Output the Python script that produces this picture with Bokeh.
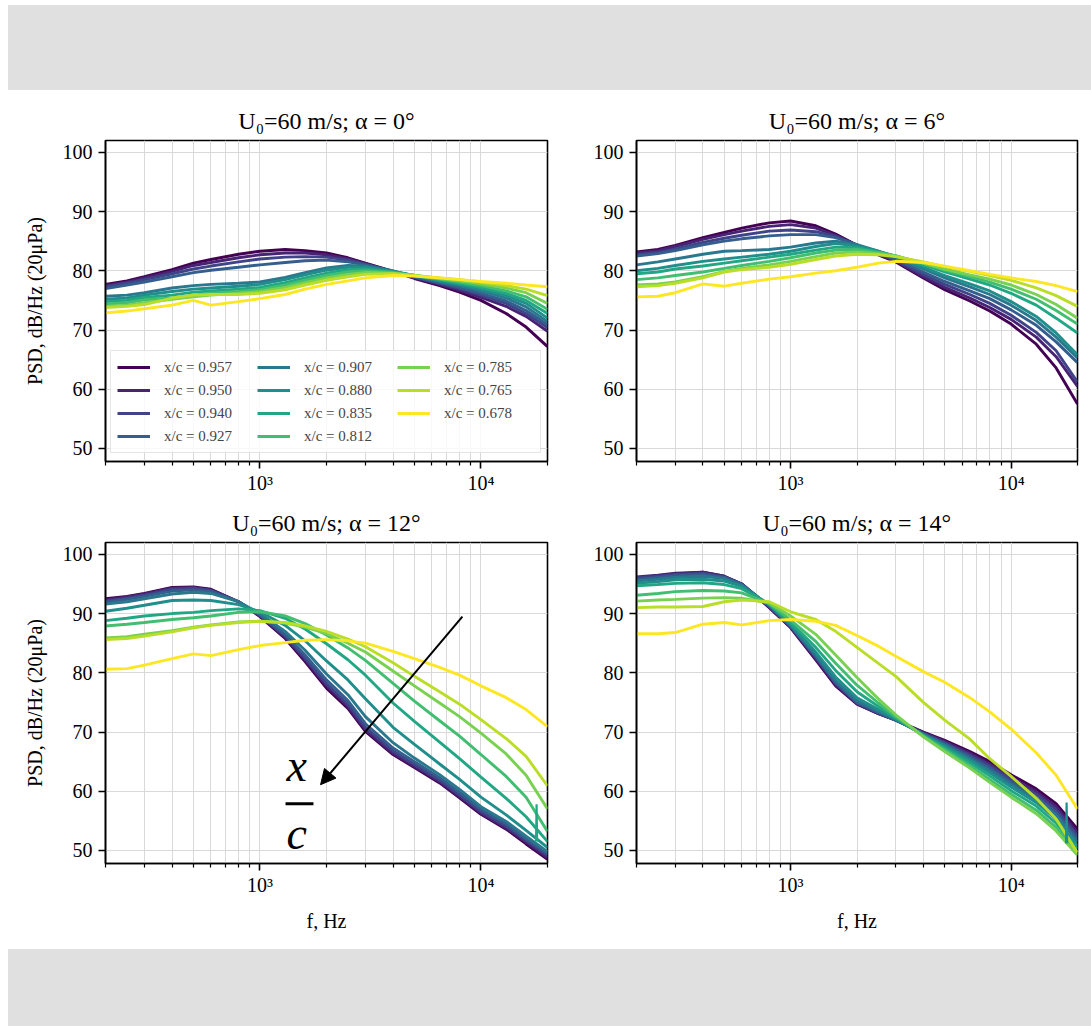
from bokeh.plotting import figure
from bokeh.models import (Range1d, FixedTicker, Legend, LegendItem, Arrow, NormalHead,
                          Div, CustomJSTickFormatter)
from bokeh.layouts import column, row
from bokeh.embed import file_html
from bokeh.resources import INLINE
from bokeh.core.properties import value
from bokeh.palettes import viridis

# ---------------- data ----------------
freq_hz = [200, 250, 300, 400, 500, 600, 800, 1000, 1300, 1600, 2000, 2500,
           3000, 4000, 5000, 6500, 8000, 10000, 13000, 16000, 20000]

xc_labels = ["0.957", "0.950", "0.940", "0.927", "0.907", "0.880",
             "0.835", "0.812", "0.785", "0.765", "0.678"]

alpha_deg = [0, 6, 12, 14]

psd_alpha0 = [
    [77.7, 78.3, 79.0, 80.2, 81.3, 81.9, 82.8, 83.3, 83.6, 83.4, 83.0, 82.2, 81.3, 79.9, 78.7, 77.5, 76.4, 75.0, 72.8, 70.5, 67.2],
    [77.5, 78.1, 78.8, 79.9, 80.9, 81.4, 82.2, 82.7, 83.0, 83.0, 82.7, 82.0, 81.2, 79.9, 78.8, 77.7, 76.7, 75.5, 74.0, 72.3, 69.8],
    [77.3, 77.9, 78.5, 79.5, 80.3, 80.8, 81.5, 82.0, 82.3, 82.4, 82.3, 81.8, 81.1, 79.9, 78.9, 77.9, 77.0, 75.9, 74.5, 72.8, 70.4],
    [77.0, 77.6, 78.1, 79.0, 79.7, 80.1, 80.6, 81.0, 81.4, 81.7, 81.8, 81.5, 81.0, 79.9, 79.0, 78.0, 77.2, 76.2, 74.9, 73.3, 70.9],
    [75.7, 75.9, 76.3, 77.1, 77.5, 77.7, 77.9, 78.1, 78.9, 79.7, 80.5, 80.9, 80.8, 80.0, 79.1, 78.2, 77.5, 76.6, 75.4, 73.9, 71.4],
    [75.2, 75.4, 75.9, 76.5, 76.9, 77.1, 77.4, 77.7, 78.5, 79.3, 80.1, 80.6, 80.6, 79.9, 79.2, 78.3, 77.7, 76.9, 75.8, 74.5, 72.0],
    [74.8, 75.0, 75.5, 75.9, 76.4, 76.6, 76.9, 77.2, 78.0, 78.8, 79.6, 80.2, 80.3, 79.8, 79.2, 78.5, 77.9, 77.2, 76.2, 75.0, 72.8],
    [74.4, 74.6, 75.1, 75.4, 75.9, 76.2, 76.5, 76.8, 77.6, 78.4, 79.2, 79.8, 80.0, 79.7, 79.2, 78.6, 78.1, 77.5, 76.6, 75.6, 73.5],
    [74.0, 74.2, 74.6, 75.2, 75.6, 75.9, 76.2, 76.5, 77.2, 78.0, 78.8, 79.4, 79.7, 79.6, 79.2, 78.7, 78.3, 77.8, 77.1, 76.3, 74.5],
    [73.8, 74.0, 74.3, 75.4, 75.9, 76.0, 76.0, 76.2, 76.8, 77.6, 78.4, 79.0, 79.4, 79.5, 79.2, 78.8, 78.5, 78.1, 77.5, 76.9, 75.8],
    [72.9, 73.2, 73.6, 74.2, 75.0, 74.2, 74.8, 75.3, 76.0, 76.9, 77.7, 78.3, 78.8, 79.2, 79.1, 78.8, 78.5, 78.2, 77.9, 77.6, 77.3],
]

psd_alpha6 = [
    [83.2, 83.6, 84.3, 85.6, 86.5, 87.2, 88.1, 88.4, 87.6, 86.2, 84.3, 82.7, 81.5, 78.8, 76.8, 74.9, 73.2, 71.0, 67.6, 63.6, 57.5],
    [83.0, 83.4, 84.1, 85.3, 86.1, 86.7, 87.5, 87.8, 87.2, 86.0, 84.3, 82.8, 81.6, 79.0, 77.2, 75.4, 73.8, 71.8, 68.8, 65.5, 60.5],
    [82.7, 83.1, 83.7, 84.8, 85.5, 86.0, 86.7, 86.9, 86.6, 85.8, 84.3, 82.9, 81.8, 79.4, 77.7, 76.0, 74.5, 72.5, 69.6, 66.5, 61.2],
    [82.5, 82.9, 83.4, 84.4, 85.0, 85.4, 85.9, 86.1, 86.1, 85.6, 84.4, 83.0, 82.0, 79.8, 78.2, 76.6, 75.3, 73.4, 70.8, 68.0, 64.5],
    [81.0, 81.5, 82.0, 82.8, 83.3, 83.4, 83.6, 84.0, 84.7, 85.0, 84.4, 83.3, 82.3, 80.3, 78.8, 77.3, 76.0, 74.2, 71.6, 68.8, 65.3],
    [80.0, 80.4, 80.9, 81.6, 82.0, 82.3, 82.8, 83.3, 84.1, 84.6, 84.2, 83.3, 82.4, 80.6, 79.2, 77.8, 76.6, 74.8, 72.3, 69.5, 65.8],
    [79.5, 79.8, 80.3, 80.8, 81.3, 81.7, 82.3, 82.8, 83.5, 84.0, 83.9, 83.2, 82.5, 81.0, 79.8, 78.6, 77.6, 76.2, 74.2, 72.0, 69.5],
    [78.5, 78.8, 79.2, 79.8, 80.4, 80.9, 81.6, 82.2, 83.0, 83.5, 83.6, 83.1, 82.5, 81.2, 80.1, 79.0, 78.1, 76.9, 75.2, 73.3, 71.0],
    [77.6, 77.8, 78.1, 79.0, 79.9, 80.4, 81.0, 81.6, 82.4, 83.0, 83.2, 82.9, 82.5, 81.3, 80.3, 79.3, 78.6, 77.6, 76.0, 74.3, 72.0],
    [77.3, 77.5, 77.9, 78.8, 79.8, 80.2, 80.6, 81.1, 81.9, 82.5, 82.8, 82.7, 82.4, 81.5, 80.7, 79.9, 79.2, 78.4, 77.1, 75.8, 74.0],
    [75.6, 75.7, 76.3, 77.8, 77.4, 77.9, 78.6, 79.0, 79.6, 80.0, 80.6, 81.3, 81.6, 81.4, 80.8, 80.0, 79.4, 78.8, 78.2, 77.5, 76.5],
]

psd_alpha12 = [
    [92.5, 92.9, 93.4, 94.4, 94.5, 94.1, 92.0, 89.5, 85.8, 81.9, 77.4, 74.0, 70.1, 66.2, 64.0, 61.4, 58.9, 56.1, 53.6, 51.1, 48.5],
    [92.3, 92.8, 93.3, 94.3, 94.4, 94.0, 92.0, 89.6, 86.0, 82.2, 77.8, 74.3, 70.4, 66.4, 64.2, 61.6, 59.1, 56.3, 53.8, 51.4, 48.8],
    [92.1, 92.6, 93.1, 94.1, 94.3, 93.9, 92.0, 89.7, 86.2, 82.5, 78.2, 74.7, 70.8, 66.8, 64.5, 61.9, 59.4, 56.6, 54.1, 51.7, 49.2],
    [91.9, 92.4, 92.9, 93.8, 94.0, 93.7, 92.0, 89.8, 86.5, 83.0, 78.8, 75.3, 71.4, 67.3, 65.0, 62.3, 59.8, 57.0, 54.5, 52.0, 49.5],
    [91.6, 92.0, 92.5, 93.3, 93.6, 93.4, 92.0, 90.0, 87.0, 83.8, 79.8, 76.3, 72.6, 68.2, 65.6, 62.8, 60.3, 57.4, 54.9, 52.4, 49.8],
    [90.4, 90.9, 91.4, 92.2, 92.3, 92.2, 91.5, 90.3, 88.0, 85.4, 82.0, 78.8, 75.6, 70.8, 67.9, 64.6, 62.0, 59.0, 56.0, 53.4, 50.5],
    [88.8, 89.2, 89.6, 90.0, 90.2, 90.5, 90.8, 90.5, 89.2, 87.4, 84.9, 82.2, 79.6, 74.9, 71.8, 68.3, 65.5, 62.4, 58.8, 55.7, 51.5],
    [87.9, 88.2, 88.5, 89.0, 89.3, 89.6, 90.2, 90.3, 89.6, 88.3, 86.4, 84.2, 82.1, 78.2, 75.2, 71.9, 69.3, 66.2, 62.5, 59.0, 53.2],
    [85.9, 86.1, 86.5, 87.1, 87.7, 88.1, 88.6, 88.7, 88.4, 87.7, 86.6, 85.0, 83.5, 80.3, 77.8, 74.9, 72.6, 69.8, 66.3, 62.7, 57.0],
    [85.6, 85.8, 86.2, 86.9, 87.6, 88.0, 88.5, 88.7, 88.5, 87.9, 87.0, 85.7, 84.4, 81.7, 79.4, 76.8, 74.7, 72.1, 68.9, 65.9, 60.9],
    [80.6, 80.7, 81.3, 82.4, 83.2, 82.9, 83.9, 84.6, 85.1, 85.5, 85.6, 85.4, 85.0, 83.6, 82.4, 80.9, 79.6, 77.8, 75.8, 73.8, 70.9],
]

psd_alpha14 = [
    [96.0, 96.4, 96.7, 97.0, 96.3, 95.0, 91.0, 87.6, 82.2, 77.8, 74.7, 73.1, 72.0, 70.0, 68.6, 66.7, 65.0, 62.8, 60.4, 57.9, 53.6],
    [96.2, 96.5, 96.8, 97.0, 96.3, 95.0, 91.1, 87.7, 82.4, 78.0, 74.8, 73.1, 72.0, 69.9, 68.4, 66.4, 64.6, 62.3, 59.9, 57.4, 53.0],
    [96.0, 96.3, 96.6, 96.8, 96.2, 95.0, 91.2, 87.8, 82.6, 78.2, 74.9, 73.2, 72.0, 69.8, 68.2, 66.1, 64.3, 61.9, 59.5, 56.9, 52.5],
    [95.7, 96.1, 96.4, 96.6, 96.1, 94.9, 91.3, 87.9, 82.8, 78.4, 75.0, 73.3, 72.0, 69.7, 68.0, 65.8, 63.9, 61.5, 59.0, 56.4, 52.0],
    [95.5, 95.8, 96.1, 96.3, 95.9, 94.8, 91.4, 88.0, 83.0, 78.7, 75.3, 73.5, 72.1, 69.6, 67.8, 65.5, 63.5, 61.1, 58.6, 55.9, 51.5],
    [95.1, 95.4, 95.7, 95.8, 95.5, 94.6, 91.5, 88.2, 83.5, 79.3, 75.8, 73.8, 72.2, 69.5, 67.6, 65.2, 63.1, 60.7, 58.1, 55.3, 50.8],
    [94.7, 94.9, 95.1, 95.2, 94.9, 94.2, 91.6, 88.5, 84.3, 80.4, 76.8, 74.3, 72.4, 69.4, 67.3, 64.8, 62.6, 60.1, 57.5, 54.6, 50.3],
    [93.1, 93.4, 93.7, 93.9, 93.8, 93.5, 91.7, 88.9, 85.3, 81.6, 77.9, 74.9, 72.6, 69.3, 67.0, 64.3, 62.0, 59.5, 56.8, 53.9, 49.7],
    [92.1, 92.3, 92.4, 92.6, 92.7, 92.6, 91.8, 89.6, 86.5, 83.0, 79.2, 75.6, 72.9, 69.2, 66.7, 63.9, 61.5, 59.0, 56.2, 53.3, 49.2],
    [91.0, 91.1, 91.1, 91.2, 92.0, 92.3, 92.0, 90.3, 89.0, 87.0, 84.3, 81.6, 79.4, 75.0, 72.0, 68.8, 65.5, 62.5, 58.8, 55.3, 49.6],
    [86.6, 86.6, 86.8, 88.2, 88.5, 88.1, 88.8, 89.0, 88.7, 88.0, 86.3, 84.5, 82.8, 80.2, 78.4, 75.8, 73.4, 70.5, 66.5, 62.7, 57.0],
]

# narrow spikes near 18 kHz (alpha = 12 and 14)
spike12_f = [17750, 17850, 17950]
spike12_psd = [51.5, 57.8, 51.5]
spike12_curve = 6
spike14_f = [17750, 17850, 17950]
spike14_psd = [51.2, 58.1, 51.2]
spike14_curve = 5

# arrow + x/c annotation (alpha = 12 panel)
arrow_f = [8240, 1880]
arrow_psd = [89.5, 61.1]
frac_f = 1465
frac_x_psd = 64.3
frac_c_psd = 52.9
frac_bar_f = [1305, 1746]
frac_bar_psd = 57.9

all_psd = [psd_alpha0, psd_alpha6, psd_alpha12, psd_alpha14]

# ---------------- styling ----------------
colors = viridis(len(xc_labels))
SERIF = "Liberation Serif"
GRID = "#d9d9d9"
minor_f = [200, 300, 400, 500, 600, 700, 800, 900, 2000, 3000, 4000, 5000,
           6000, 7000, 8000, 9000, 20000]


def make_panel(idx, col, rw):
    left_col = (col == 0)
    bottom_row = (rw == 1)
    p = figure(
        x_axis_type="log",
        x_range=Range1d(200, 20000),
        y_range=Range1d(47.8, 102.0),
        frame_width=442 if left_col else 441,
        frame_height=321,
        min_border_left=105 if left_col else 61,
        min_border_right=28 if left_col else 14,
        min_border_top=50 if not bottom_row else 40,
        min_border_bottom=40 if not bottom_row else 86,
        output_backend="svg",
        toolbar_location=None,
        background_fill_color="white",
        border_fill_color="white",
    )
    p.outline_line_color = "black"
    p.outline_line_width = 1.6
    p.outline_line_alpha = 1.0

    p.title.text = f"U\u2080=60 m/s; \u03b1 = {alpha_deg[idx]}\u00b0"
    p.title.align = "center"
    p.title.text_font = SERIF
    p.title.text_font_size = "24px"
    p.title.text_font_style = "normal"
    p.title.text_color = "black"
    p.title.standoff = 13

    xt = FixedTicker(ticks=[1000, 10000], minor_ticks=minor_f)
    p.xaxis.ticker = xt
    p.xgrid.ticker = xt
    p.xaxis.formatter = CustomJSTickFormatter(code="""
        const e = Math.round(Math.log10(tick));
        const s = {1: '\u00b9', 2: '\u00b2', 3: '\u00b3', 4: '\u2074', 5: '\u2075'};
        return '10' + s[e];
    """)
    yt = FixedTicker(ticks=[50, 60, 70, 80, 90, 100])
    p.yaxis.ticker = yt
    p.ygrid.ticker = yt

    for ax in (p.xaxis, p.yaxis):
        ax.axis_line_color = "black"
        ax.axis_line_width = 1.6
        ax.major_tick_line_color = "black"
        ax.major_tick_line_width = 1.6
        ax.major_tick_out = 7
        ax.major_tick_in = 0
        ax.major_label_text_font = SERIF
        ax.major_label_text_font_size = "20px"
        ax.major_label_text_color = "black"
        ax.axis_label_text_font = SERIF
        ax.axis_label_text_font_size = "20px"
        ax.axis_label_text_font_style = "normal"
        ax.axis_label_text_color = "black"
    p.yaxis.major_label_standoff = 6
    p.xaxis.major_label_standoff = 3
    p.xaxis.minor_tick_line_color = "black"
    p.xaxis.minor_tick_line_width = 1.2
    p.xaxis.minor_tick_out = 4
    p.xaxis.minor_tick_in = 0
    p.yaxis.minor_tick_line_color = None

    p.xgrid.grid_line_color = GRID
    p.xgrid.grid_line_width = 1
    p.xgrid.minor_grid_line_color = GRID
    p.xgrid.minor_grid_line_width = 1
    p.ygrid.grid_line_color = GRID
    p.ygrid.grid_line_width = 1

    if left_col:
        p.yaxis.axis_label = "PSD, dB/Hz (20\u03bcPa)"
        p.yaxis.axis_label_standoff = 14
    if bottom_row:
        p.xaxis.axis_label = "f, Hz"
        p.xaxis.axis_label_standoff = 11

    renderers = []
    for k, curve in enumerate(all_psd[idx]):
        r = p.line(freq_hz, curve, line_color=colors[k], line_width=2.9)
        renderers.append(r)

    if idx == 2:
        p.line(spike12_f, spike12_psd, line_color=colors[spike12_curve], line_width=2.2)
        p.add_layout(Arrow(end=NormalHead(size=15, fill_color="black", line_color="black"),
                           x_start=arrow_f[0], y_start=arrow_psd[0],
                           x_end=arrow_f[1], y_end=arrow_psd[1],
                           line_color="black", line_width=2))
        p.text(x=[frac_f, frac_f], y=[frac_x_psd, frac_c_psd], text=["x", "c"],
               text_font=value(SERIF), text_font_style="italic", text_font_size="46px",
               text_align="center", text_baseline="alphabetic", text_color="black")
        p.segment(x0=[frac_bar_f[0]], y0=[frac_bar_psd], x1=[frac_bar_f[1]], y1=[frac_bar_psd],
                  line_color="black", line_width=3)
    if idx == 3:
        p.line(spike14_f, spike14_psd, line_color=colors[spike14_curve], line_width=2.2)

    if idx == 0:
        items = [LegendItem(label=f"x/c = {lab}", renderers=[renderers[k]])
                 for k, lab in enumerate(xc_labels)]
        leg = Legend(items=items, location=(5, 8), orientation="vertical", nrows=4,
                     glyph_width=33, glyph_height=20, label_standoff=14,
                     label_height=20, label_width=90, spacing=3, padding=6, margin=0,
                     label_text_font=SERIF, label_text_font_size="15px",
                     border_line_color="#cccccc", border_line_width=1.2,
                     background_fill_color="white", background_fill_alpha=0.8)
        p.add_layout(leg)
    return p


p1 = make_panel(0, 0, 0)
p2 = make_panel(1, 1, 0)
p3 = make_panel(2, 0, 1)
p4 = make_panel(3, 1, 1)

top_band = Div(text="", width=1083, height=85, margin=(5, 0, 0, 8),
               styles={"background-color": "#e0e0e0"})
bottom_band = Div(text="", width=1083, height=77, margin=(0, 0, 0, 8),
                  styles={"background-color": "#e0e0e0"})

layout = column(top_band, row(p1, p2), row(p3, p4), bottom_band)

open("out.html", "w").write(file_html(layout, INLINE))
